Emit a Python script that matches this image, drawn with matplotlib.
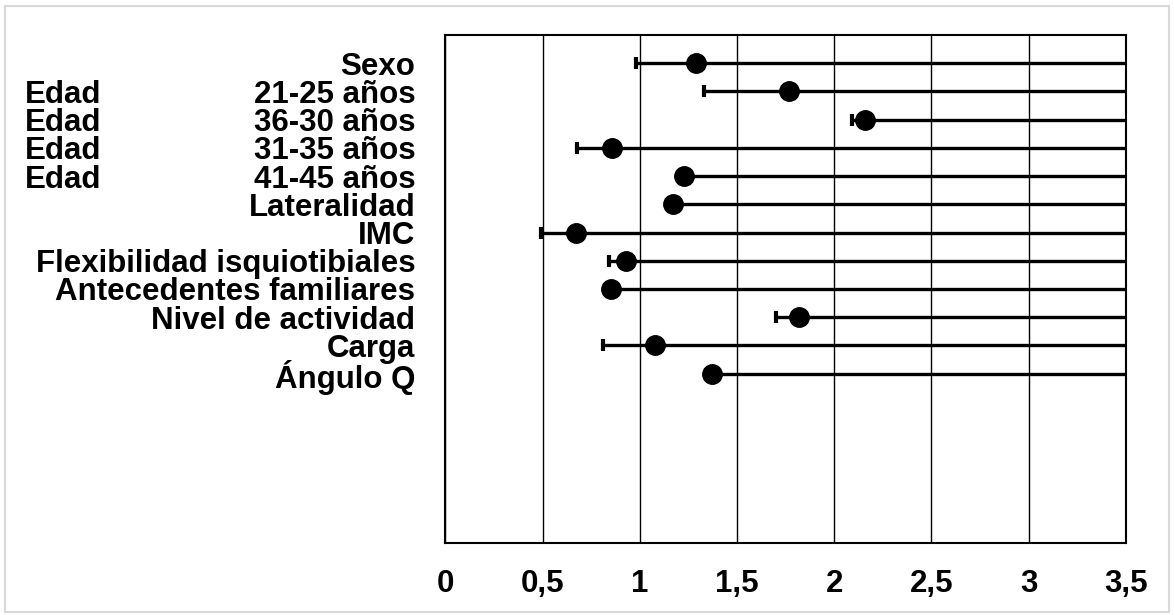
import matplotlib
matplotlib.use("Agg")
import matplotlib.pyplot as plt
import matplotlib.transforms as mtransforms
from matplotlib.patches import Rectangle

# data (upper limits run past the 3.5 axis end)
labels = ["Sexo", "21-25 años", "36-30 años", "31-35 años", "41-45 años",
          "Lateralidad", "IMC", "Flexibilidad isquiotibiales",
          "Antecedentes familiares", "Nivel de actividad", "Carga", "Ángulo Q"]
group = ["", "Edad", "Edad", "Edad", "Edad", "", "", "", "", "", "", ""]
estimate = [1.29, 1.77, 2.16, 0.86, 1.23, 1.17, 0.67, 0.93, 0.85, 1.82, 1.08, 1.37]
lower = [0.98, 1.33, 2.09, 0.68, 1.20, 1.14, 0.49, 0.84, 0.82, 1.70, 0.81, 1.34]
upper = [4.0, 4.0, 4.0, 4.0, 4.0, 4.0, 4.0, 4.0, 4.0, 4.0, 4.0, 4.0]
xticks = [0, 0.5, 1, 1.5, 2, 2.5, 3, 3.5]
xticklabels = ["0", "0,5", "1", "1,5", "2", "2,5", "3", "3,5"]

plt.rcParams["font.family"] = ["Liberation Sans", "DejaVu Sans"]
plt.rcParams["font.weight"] = "bold"
FS = 22.5

fig = plt.figure(figsize=(11.74, 6.15), dpi=100)
ax = fig.add_axes([0.3793, 0.1171, 0.9589 - 0.3793, 0.9431 - 0.1171])

pos = list(range(1, len(labels) + 1))
err = [[e - l for e, l in zip(estimate, lower)],
       [u - e for e, u in zip(estimate, upper)]]
ax.errorbar(estimate, pos, xerr=err, fmt="o", color="black", ms=14,
            elinewidth=2.4, capsize=4, capthick=3, zorder=3)

ax.set_xlim(0, 3.5)
ax.set_ylim(18, 0)
ax.set_xticks(xticks)
ax.set_xticklabels(xticklabels, fontsize=FS, fontweight="bold")
ax.set_yticks(pos)
ax.set_yticklabels(labels, fontsize=FS, fontweight="bold")
ax.tick_params(axis="x", length=0, pad=19)
ax.tick_params(axis="y", length=0, pad=21.5)
ax.grid(axis="x", color="black", linewidth=1)
ax.set_axisbelow(True)
for s in ax.spines.values():
    s.set_linewidth(1.5)

# "Edad" sits in its own column at the far left
trans = mtransforms.blended_transform_factory(fig.transFigure, ax.transData)
for g, p in zip(group, pos):
    if g:
        ax.text(25 / 1174, p, g, transform=trans, fontsize=FS, fontweight="bold",
                ha="left", va="center_baseline")

fig.patches.append(Rectangle((5 / 1174, 3 / 615), 1164 / 1174, 606 / 615,
                             transform=fig.transFigure, fill=False,
                             edgecolor="#d9d9d9", linewidth=1.5))

fig.savefig("out.png", dpi=100)
